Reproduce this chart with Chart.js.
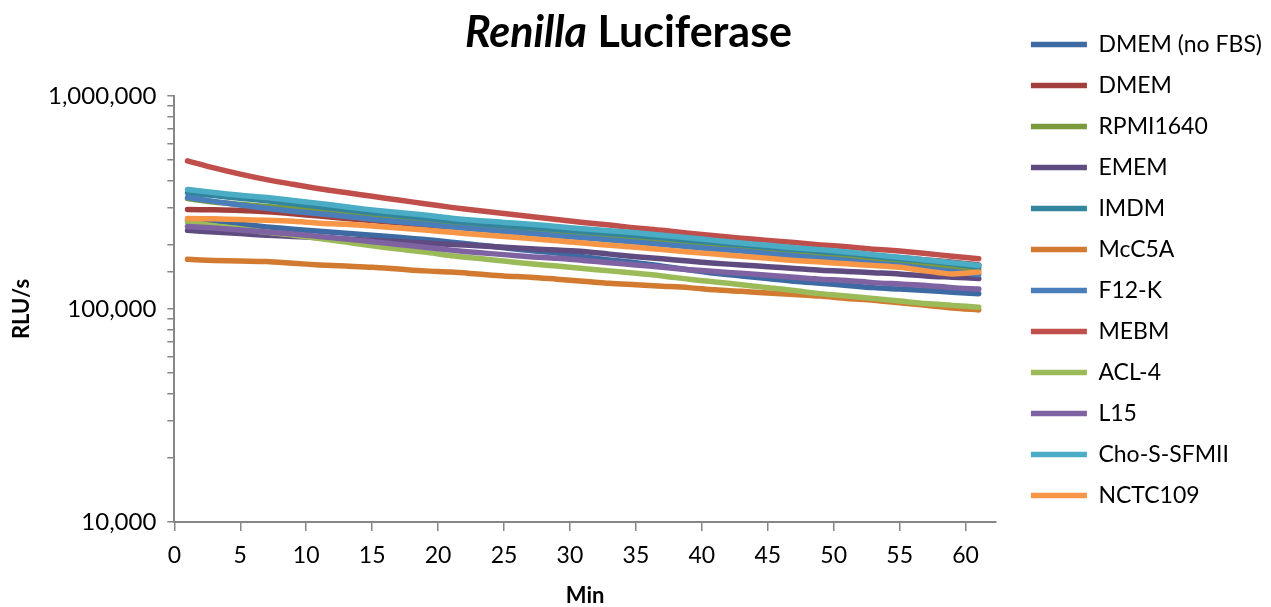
<!DOCTYPE html>
<html>
<head>
<meta charset="utf-8">
<script src="https://cdn.jsdelivr.net/npm/chart.js@4.4.1/dist/chart.umd.min.js"></script>
<style>
  html, body { margin: 0; padding: 0; background: #fff; }
  #wrap { position: relative; width: 1271px; height: 607px; }
</style>
</head>
<body>
<div id="wrap"><canvas id="myChart"></canvas></div>
<script>
// minutes after substrate addition (x values)
var minutes = [1, 3, 5, 7, 9, 11, 13, 15, 17, 19, 21, 23, 25, 27, 29, 31, 33, 35, 37, 39, 41, 43, 45, 47, 49, 51, 53, 55, 57, 59, 61];

var mediaNames = ['DMEM (no FBS)', 'DMEM', 'RPMI1640', 'EMEM', 'IMDM', 'McC5A', 'F12-K', 'MEBM', 'ACL-4', 'L15', 'Cho-S-SFMII', 'NCTC109'];
var mediaColors = ['#3D6AA3', '#A23F3C', '#7A9A3C', '#5F4B80', '#31869E', '#D27A30', '#4A7EBB', '#C04E4B', '#9BBB59', '#7F62A2', '#4BACC6', '#F79646'];

// RLU/s
var dmemNoFbs = [262000, 256000, 250000, 243000, 237000, 232000, 227000, 222000, 217000, 212000, 206000, 200000, 194000, 188000, 183000, 176000, 170000, 165000, 159000, 153000, 147000, 143000, 139000, 135000, 132000, 129000, 126000, 124000, 122000, 120000, 118000];
var dmem = [293000, 292000, 290000, 286000, 280000, 273000, 266000, 260000, 254000, 248000, 243000, 238000, 234000, 230000, 226000, 222000, 218000, 214000, 210000, 206000, 202000, 198000, 194000, 190000, 186000, 182000, 178000, 174000, 170000, 166000, 161000];
var rpmi1640 = [330000, 318000, 310000, 303000, 296000, 289000, 283000, 277000, 268000, 260000, 254000, 248000, 242000, 237000, 231000, 226000, 220000, 214000, 209000, 203000, 198000, 193000, 188000, 183000, 178000, 173000, 169000, 164000, 160000, 156000, 152000];
var emem = [234000, 230000, 226000, 222000, 219000, 216000, 213000, 210000, 207000, 204000, 201000, 198000, 195000, 192000, 189000, 186000, 181000, 176000, 172000, 168000, 164000, 161000, 158000, 155000, 152000, 150000, 148000, 146000, 143000, 141000, 139000];
var imdm = [351000, 341000, 331000, 322000, 312000, 302000, 292000, 283000, 275000, 267000, 259000, 252000, 246000, 241000, 236000, 231000, 226000, 221000, 216000, 210000, 205000, 200000, 195000, 191000, 186000, 182000, 177000, 172000, 168000, 163000, 157000];
var mcc5a = [171000, 169000, 168000, 167000, 164000, 161000, 159000, 157000, 154000, 151000, 149000, 146000, 143000, 141000, 138000, 135000, 132000, 130000, 128000, 126000, 123000, 121000, 119000, 117000, 115000, 112000, 110000, 107000, 104000, 101000, 99000];
var f12k = [334000, 320000, 308000, 297000, 288000, 280000, 272000, 264000, 257000, 250000, 243000, 237000, 231000, 226000, 221000, 216000, 211000, 206000, 201000, 196000, 191000, 187000, 182000, 178000, 173000, 169000, 164000, 160000, 155000, 150000, 145000];
var mebm = [496000, 460000, 430000, 405000, 385000, 367000, 352000, 338000, 325000, 312000, 300000, 290000, 281000, 272000, 263000, 255000, 248000, 240000, 234000, 227000, 221000, 215000, 210000, 205000, 200000, 196000, 191000, 187000, 182000, 177000, 172000];
var acl4 = [256000, 246000, 238000, 229000, 222000, 214000, 206000, 198000, 191000, 185000, 178000, 173000, 168000, 163000, 159000, 155000, 151000, 147000, 143000, 138000, 134000, 130000, 126000, 122000, 118000, 115000, 112000, 109000, 106000, 104000, 102000];
var l15 = [244000, 240000, 235000, 230000, 225000, 219000, 213000, 207000, 201000, 195000, 189000, 184000, 180000, 176000, 173000, 169000, 165000, 161000, 157000, 153000, 150000, 147000, 144000, 141000, 138000, 136000, 133000, 131000, 129000, 126000, 124000];
var choSFMII = [364000, 352000, 342000, 334000, 323000, 313000, 302000, 292000, 284000, 276000, 267000, 260000, 255000, 250000, 244000, 238000, 233000, 228000, 222000, 216000, 210000, 204000, 199000, 194000, 190000, 185000, 180000, 175000, 170000, 165000, 160000];
var nctc109 = [266000, 265000, 263000, 261000, 258000, 253000, 250000, 245000, 240000, 235000, 229000, 224000, 219000, 214000, 209000, 204000, 199000, 195000, 190000, 185000, 181000, 177000, 173000, 169000, 166000, 163000, 160000, 157000, 151000, 146000, 149000];

var allSeries = [dmemNoFbs, dmem, rpmi1640, emem, imdm, mcc5a, f12k, mebm, acl4, l15, choSFMII, nctc109];
var xTicks = [0, 5, 10, 15, 20, 25, 30, 35, 40, 45, 50, 55, 60];
var yMajorTicks = [10000, 100000, 1000000];
var titleParts = ['Renilla', ' Luciferase'];

Chart.defaults.font.family = 'Lato';
Chart.defaults.color = '#000';

// title with an italic first word, added as a layout box at the top
var titleBlock = {
  id: 'titleBlock',
  start: function(chart) {
    var box = {
      position: 'top', weight: 100, fullSize: false, options: {display: true},
      left: 0, top: 0, right: 0, bottom: 0, width: 0, height: 0,
      isHorizontal: function() { return true; },
      getPadding: function() { return {top: 0, left: 0, right: 0, bottom: 0}; },
      update: function(maxWidth) { this.width = maxWidth; this.height = 81; },
      draw: function() {
        var ctx = chart.ctx;
        ctx.save();
        ctx.fillStyle = '#000';
        ctx.textBaseline = 'alphabetic';
        ctx.textAlign = 'left';
        ctx.font = 'italic bold 43px Lato';
        var w1 = ctx.measureText(titleParts[0]).width;
        ctx.font = 'bold 43px Lato';
        var w2 = ctx.measureText(titleParts[1]).width;
        var x0 = chart.width / 2 - 7 - (w1 + w2) / 2;
        var y0 = this.top + 32;
        ctx.font = 'italic bold 43px Lato';
        ctx.fillText(titleParts[0], x0, y0);
        ctx.font = 'bold 43px Lato';
        ctx.fillText(titleParts[1], x0 + w1, y0);
        ctx.restore();
      }
    };
    Chart.layouts.addBox(chart, box);
  }
};

// push the legend a little away from the plot
var legendGap = {
  id: 'legendGap',
  afterLayout: function(chart) {
    chart.legend.left += 17;
    chart.legend.right += 17;
  }
};

var datasets = mediaNames.map(function(name, i) {
  return {
    label: name,
    data: minutes.map(function(m, j) { return {x: m, y: allSeries[i][j]}; }),
    borderColor: mediaColors[i],
    backgroundColor: mediaColors[i],
    borderWidth: 5.5,
    borderCapStyle: 'round',
    borderJoinStyle: 'round',
    pointRadius: 0,
    tension: 0.3,
    order: mediaNames.length - 1 - i
  };
});

var myChart = document.getElementById('myChart').getContext('2d');
var chart = new Chart(myChart, {
  type: 'line',
  data: { datasets: datasets },
  plugins: [titleBlock, legendGap],
  options: {
    responsive: true,
    maintainAspectRatio: false,
    animation: false,
    layout: { padding: { top: 15, right: 16, bottom: 0, left: 0 } },
    plugins: {
      tooltip: { enabled: false },
      legend: {
        display: true,
        position: 'right',
        align: 'start',
        labels: {
          usePointStyle: true,
          pointStyle: 'line',
          pointStyleWidth: 56,
          padding: 18,
          color: '#000',
          font: { size: 23 },
          sort: function(a, b) { return a.datasetIndex - b.datasetIndex; }
        }
      }
    },
    scales: {
      x: {
        type: 'linear',
        min: 0,
        max: 62.3,
        afterBuildTicks: function(axis) {
          axis.ticks = xTicks.map(function(v) { return {value: v}; });
        },
        ticks: { padding: 13, font: { size: 23, lineHeight: 1 }, color: '#000' },
        grid: { drawOnChartArea: false, drawTicks: true, tickLength: 9, color: '#868686', lineWidth: 1.5 },
        border: { color: '#868686', width: 2 },
        title: { display: true, text: 'Min', font: { size: 22, weight: 'bold', lineHeight: 1 }, padding: { top: 5, bottom: 0 }, color: '#000' }
      },
      y: {
        type: 'logarithmic',
        min: 10000,
        max: 1000000,
        ticks: {
          autoSkip: false,
          padding: 11,
          font: { size: 24, lineHeight: 1 },
          color: '#000',
          callback: function(v) {
            return yMajorTicks.indexOf(v) >= 0 ? v.toLocaleString('en-US') : '';
          }
        },
        grid: { drawOnChartArea: false, drawTicks: true, tickLength: 7, color: '#868686', lineWidth: 1.5 },
        border: { color: '#868686', width: 2 },
        title: { display: true, text: 'RLU/s', font: { size: 22, weight: 'bold', lineHeight: 1 }, padding: { top: 11, bottom: 4 }, color: '#000' }
      }
    }
  }
});
</script>
</body>
</html>
